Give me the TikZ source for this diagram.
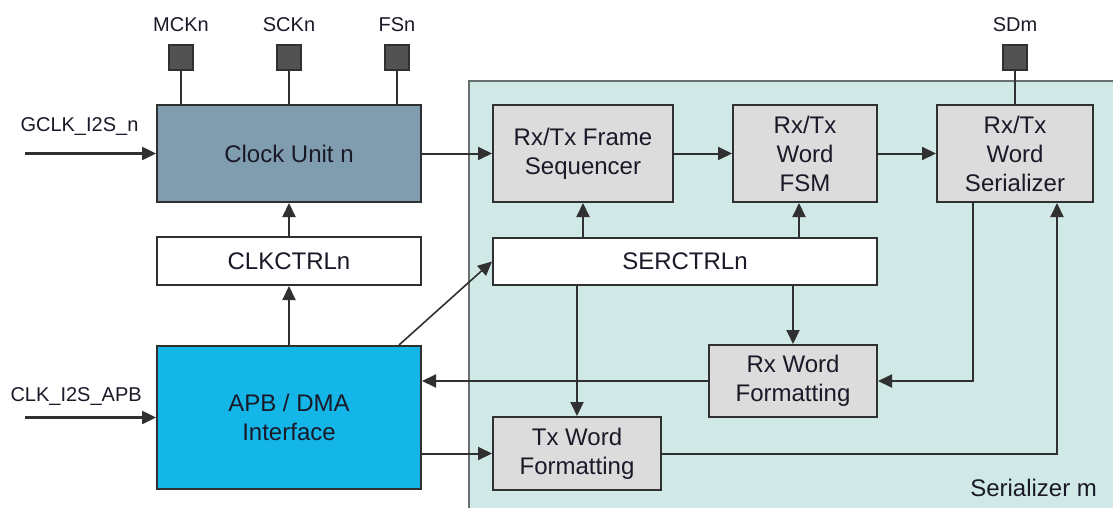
\documentclass[tikz,border=0pt]{standalone}
\usepackage{fontspec}
\setmainfont{Liberation Sans}
\usetikzlibrary{arrows.meta}
\definecolor{edge}{RGB}{48,48,48}
\definecolor{txt}{RGB}{25,25,40}
\definecolor{clkfill}{RGB}{127,157,175}
\definecolor{apbfill}{RGB}{20,182,232}
\definecolor{boxgray}{RGB}{220,220,220}
\definecolor{panel}{RGB}{208,232,230}
\definecolor{paneledge}{RGB}{105,110,110}
\definecolor{padgray}{RGB}{82,82,82}

\begin{document}
\begin{tikzpicture}[x=1pt,y=-1pt,
    blk/.style={draw=edge, line width=2pt, align=center, inner sep=0pt, text=txt, font=\fontsize{24}{29}\selectfont},
    pad/.style={draw=edge, fill=padgray, line width=1.6pt, minimum width=24pt, minimum height=25pt, inner sep=0pt},
    sig/.style={text=txt, font=\fontsize{20}{24}\selectfont},
    link/.style={draw=edge, line width=2pt},
    arr/.style={link, -{Triangle[length=14pt,width=13pt]}}]
    \clip (0,0) rectangle (1113,508);
    \draw[draw=paneledge, fill=panel, line width=2pt] (469,81) rectangle (1140,540);

    \node[blk, fill=clkfill, minimum width=264pt, minimum height=97pt] (clk) at (289,153.5) {Clock Unit n};
    \node[blk, fill=white, minimum width=264pt, minimum height=48pt] (clkctrl) at (289,261) {CLKCTRLn};
    \node[blk, fill=apbfill, minimum width=264pt, minimum height=143pt] (apb) at (289,417.5) {APB / DMA\\Interface};
    \node[blk, fill=boxgray, minimum width=180pt, minimum height=97pt] (seq) at (583,153.5) {Rx/Tx Frame\\Sequencer};
    \node[blk, fill=boxgray, minimum width=144pt, minimum height=97pt] (fsm) at (805,153.5) {Rx/Tx\\Word\\FSM};
    \node[blk, fill=boxgray, minimum width=156pt, minimum height=97pt] (ser) at (1015,153.5) {Rx/Tx\\Word\\Serializer};
    \node[blk, fill=white, minimum width=384pt, minimum height=47pt] (serctrl) at (685,261.5) {SERCTRLn};
    \node[blk, fill=boxgray, minimum width=168pt, minimum height=72pt] (rxw) at (793,381) {Rx Word\\Formatting};
    \node[blk, fill=boxgray, minimum width=168pt, minimum height=73pt] (txw) at (577,453.5) {Tx Word\\Formatting};
    \node[blk, draw=none, anchor=east] (serlbl) at (1098,488) {Serializer m};

    \foreach \n/\x/\t in {mck/181/MCKn, sck/289/SCKn, fs/397/FSn, sd/1015/SDm} {
        \node[pad] (\n) at (\x,57.5) {};
        \node[sig] (\n lbl) at (\x,25) {\t};
    }
    \foreach \n in {mck,sck,fs}
        \draw[link, line width=2.5pt] (\n.south) -- (\n.south |- clk.north);
    \draw[link] (sd.south) -- (ser.north);

    \node[sig, anchor=west] (gclk) at (17,127) {GCLK\_I2S\_n};
    \node[sig, anchor=west] (apbclk) at (7,397) {CLK\_I2S\_APB};
    \coordinate (gclkin) at (25,153.5);
    \coordinate (apbin) at (25,417.5);
    \draw[arr, line width=2.5pt] (gclkin) -- (clk.west);
    \draw[arr, line width=2.5pt] (apbin) -- (apb.west);

    \draw[arr] (clk.east) -- (seq.west);
    \draw[arr] (seq.east) -- (fsm.west);
    \draw[arr] (fsm.east) -- (ser.west);
    \draw[arr] (clkctrl.north) -- (clk.south);
    \draw[arr] (apb.north) -- (clkctrl.south);
    \draw[arr, line width=1.6pt] ([xshift=-23pt]apb.north east) -- (serctrl.west);
    \draw[arr] (seq.south |- serctrl.north) -- (seq.south);
    \draw[arr] ([xshift=-6pt]fsm.south |- serctrl.north) -- ([xshift=-6pt]fsm.south);
    \draw[arr] (rxw.north |- serctrl.south) -- (rxw.north);
    \draw[arr] (txw.north |- serctrl.south) -- (txw.north);
    \draw[arr] ([xshift=-42pt]ser.south) |- (rxw.east);
    \draw[arr] (txw.east) -| ([xshift=42pt]ser.south);
    \draw[arr] (rxw.west) -- (rxw.west -| apb.east);
    \draw[arr] (apb.east |- txw.west) -- (txw.west);
\end{tikzpicture}
\end{document}
